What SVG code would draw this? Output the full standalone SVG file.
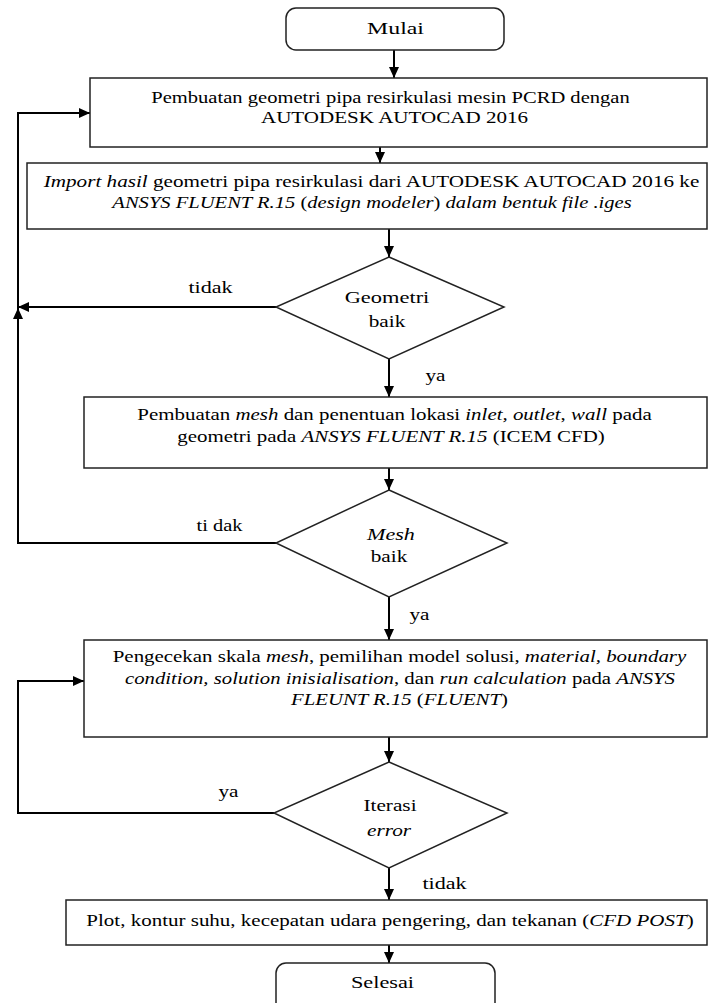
<svg xmlns="http://www.w3.org/2000/svg" width="709" height="1003" viewBox="0 0 709 1003">
<style>
.b{fill:#fff;stroke:#222;stroke-width:1.5}
.c{fill:none;stroke:#000;stroke-width:2}
text{font-family:"Liberation Serif","Times New Roman",serif;font-size:17px;fill:#000;text-anchor:middle}
.i{font-style:italic}
</style>
<defs>
<marker id="ah" markerUnits="userSpaceOnUse" markerWidth="12" markerHeight="10" refX="11" refY="5" orient="auto">
<path d="M0,0 L11,5 L0,10 z" fill="#000"/>
</marker>
</defs>
<g id="connectors">
<line class="c" x1="394" y1="50" x2="394" y2="78" marker-end="url(#ah)"/>
<line class="c" x1="380" y1="147" x2="380" y2="163" marker-end="url(#ah)"/>
<line class="c" x1="389" y1="229" x2="389" y2="257" marker-end="url(#ah)"/>
<line class="c" x1="276" y1="307" x2="18" y2="307" marker-end="url(#ah)"/>
<line class="c" x1="18" y1="543" x2="18" y2="308" marker-end="url(#ah)"/>
<polyline class="c" points="18,308 18,113 90,113" marker-end="url(#ah)"/>
<line class="c" x1="276" y1="543" x2="17" y2="543"/>
<line class="c" x1="389" y1="359" x2="389" y2="397" marker-end="url(#ah)"/>
<line class="c" x1="389" y1="468" x2="389" y2="490" marker-end="url(#ah)"/>
<line class="c" x1="389" y1="597" x2="389" y2="640" marker-end="url(#ah)"/>
<polyline class="c" points="274,813 18,813 18,681 84,681" marker-end="url(#ah)"/>
<line class="c" x1="389" y1="737" x2="389" y2="762" marker-end="url(#ah)"/>
<line class="c" x1="389" y1="868" x2="389" y2="900" marker-end="url(#ah)"/>
<line class="c" x1="389" y1="945" x2="389" y2="963" marker-end="url(#ah)"/>
<text transform="translate(210.5,293) scale(1.3,1)">tidak</text>
<text transform="translate(435.5,381) scale(1.25,1)">ya</text>
<text transform="translate(219.5,531) scale(1.2,1)">ti dak</text>
<text transform="translate(419.5,620) scale(1.25,1)">ya</text>
<text transform="translate(228.5,797) scale(1.25,1)">ya</text>
<text transform="translate(444.5,889) scale(1.3,1)">tidak</text>
</g>
<g id="mulai">
<rect class="b" x="286" y="8" width="218" height="42" rx="10"/>
<text transform="translate(395.5,34) scale(1.4,1)">Mulai</text>
</g>
<g id="box1">
<rect class="b" x="90" y="78" width="617" height="69"/>
<text transform="translate(390.5,103) scale(1.21,1)">Pembuatan geometri pipa resirkulasi mesin PCRD dengan</text>
<text transform="translate(394.5,123) scale(1.24,1)">AUTODESK AUTOCAD 2016</text>
</g>
<g id="box2">
<rect class="b" x="27" y="163" width="680" height="66"/>
<text transform="translate(371.5,187) scale(1.245,1)"><tspan class="i">Import hasil</tspan>  geometri pipa resirkulasi dari AUTODESK AUTOCAD 2016 ke</text>
<text transform="translate(372,208) scale(1.21,1)"><tspan class="i">ANSYS FLUENT R.15</tspan> (<tspan class="i">design modeler</tspan>) <tspan class="i">dalam bentuk file .iges</tspan></text>
</g>
<g id="dec1">
<polygon class="b" points="389,257 504,307 389,359 276,307"/>
<text transform="translate(387,303) scale(1.32,1)">Geometri</text>
<text transform="translate(387,327) scale(1.25,1)">baik</text>
</g>
<g id="box3">
<rect class="b" x="84" y="397" width="623" height="71"/>
<text transform="translate(394.5,420) scale(1.23,1)">Pembuatan <tspan class="i">mesh</tspan> dan penentuan lokasi <tspan class="i">inlet, outlet</tspan>, <tspan class="i">wall</tspan> pada</text>
<text transform="translate(391,442) scale(1.23,1)">geometri pada <tspan class="i">ANSYS FLUENT R.15</tspan>  (ICEM CFD)</text>
</g>
<g id="dec2">
<polygon class="b" points="389,490 507,543 389,597 276,543"/>
<text class="i" transform="translate(391,540) scale(1.3,1)">Mesh</text>
<text transform="translate(389,562) scale(1.25,1)">baik</text>
</g>
<g id="box4">
<rect class="b" x="84" y="640" width="623" height="97"/>
<text transform="translate(399.5,662) scale(1.23,1)">Pengecekan skala <tspan class="i">mesh</tspan>, pemilihan model solusi, <tspan class="i">material, boundary</tspan></text>
<text transform="translate(400,684) scale(1.22,1)"><tspan class="i">condition, solution inisialisation</tspan>, dan <tspan class="i">run calculation</tspan> pada <tspan class="i">ANSYS</tspan></text>
<text transform="translate(399.5,705) scale(1.22,1)"><tspan class="i">FLEUNT R.15</tspan> (<tspan class="i">FLUENT</tspan>)</text>
</g>
<g id="dec3">
<polygon class="b" points="389,762 507,813 389,868 274,813"/>
<text transform="translate(390,811) scale(1.25,1)">Iterasi</text>
<text class="i" transform="translate(389,836) scale(1.25,1)">error</text>
</g>
<g id="box5">
<rect class="b" x="66" y="900" width="641" height="45"/>
<text transform="translate(390,926) scale(1.235,1)">Plot, kontur suhu, kecepatan udara pengering, dan tekanan (<tspan class="i">CFD POST</tspan>)</text>
</g>
<g id="selesai">
<rect class="b" x="276" y="963" width="219" height="50" rx="10"/>
<text transform="translate(382.5,988) scale(1.31,1)">Selesai</text>
</g>
</svg>
